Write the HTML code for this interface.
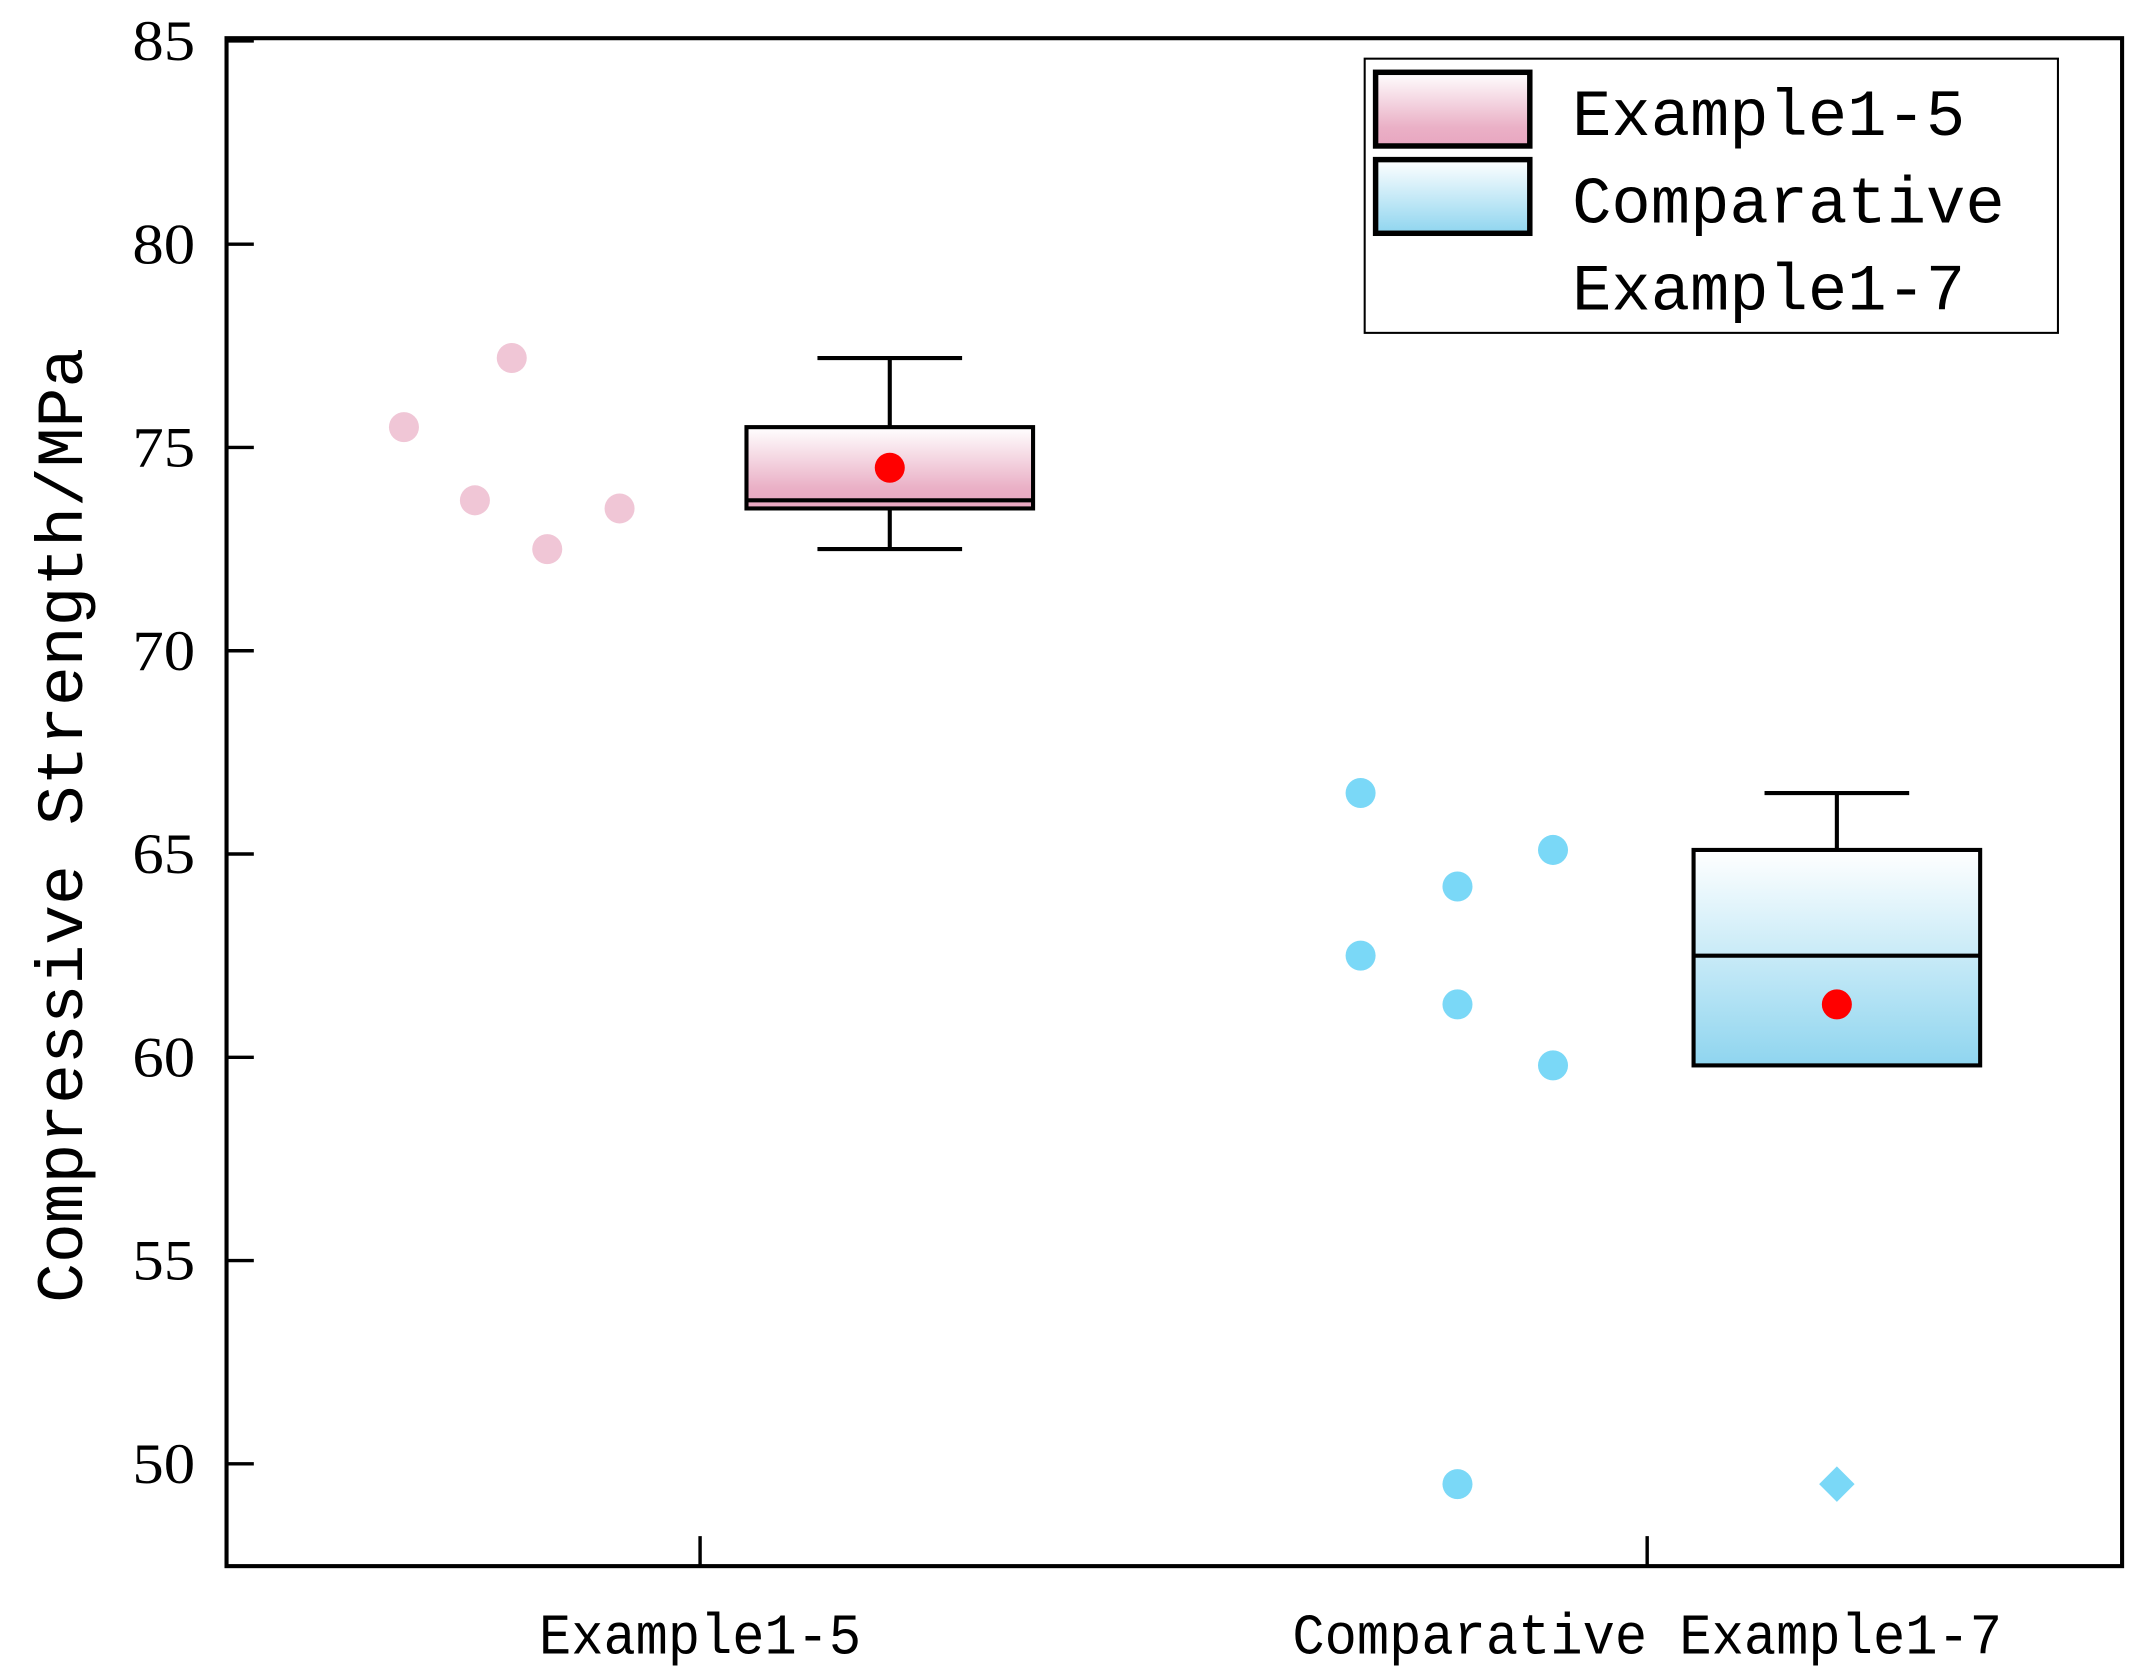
<!DOCTYPE html>
<html><head><meta charset="utf-8"><style>
html,body{margin:0;padding:0;background:#fff;}
svg{display:block;}
</style></head><body>
<svg id="chart" xmlns="http://www.w3.org/2000/svg" width="2133" height="1678" viewBox="0 0 1563 1230" preserveAspectRatio="none">
<defs>
<linearGradient id="gPink" x1="0" y1="0" x2="0" y2="1"><stop offset="0" stop-color="#ffffff"/><stop offset="0.75" stop-color="#eab0c6"/><stop offset="1" stop-color="#e8a6c0"/></linearGradient>
<linearGradient id="gBlue" x1="0" y1="0" x2="0" y2="1"><stop offset="0" stop-color="#ffffff"/><stop offset="1" stop-color="#8fd5ef"/></linearGradient>
</defs>
<g id="plot"></g>
</svg>
<script>
const categories = ["Example1-5", "Comparative Example1-7"];
const yTicks = [50, 55, 60, 65, 70, 75, 80, 85];
const pointsA = [75.5, 73.7, 77.2, 72.5, 73.5];
const pointsB = [66.5, 62.5, 64.2, 61.3, 49.5, 65.1, 59.8];
const boxMin = [72.5, 59.8];
const boxQ1 = [73.5, 59.8];
const boxMedian = [73.7, 62.5];
const boxQ3 = [75.5, 65.1];
const boxMax = [77.2, 66.5];
const boxMean = [74.5, 61.3];
const outliersB = [49.5];

const NS = "http://www.w3.org/2000/svg";
const g = document.getElementById('plot');
const L = 166, R = 1555, T = 28, B = 1148;
function y(v){ return 1073 - (v - 50) * 29.8; }
function xc(i){ return 513 + i * 694; }
function mk(tag, attrs, parent){
  const e = document.createElementNS(NS, tag);
  for (const k in attrs) e.setAttribute(k, attrs[k]);
  (parent || g).appendChild(e);
  return e;
}
// frame
let e = mk('rect', {x:L, y:T, width:R-L, height:B-T, fill:'none', stroke:'#000', 'stroke-width':3});


// y ticks
yTicks.forEach(v => {
  let t = mk('line', {x1:L, x2:L+20, y1:y(v), y2:y(v), stroke:'#000', 'stroke-width':2.5});
  
  
  let lb = mk('text', {x:143, y:y(v)+14, 'text-anchor':'end', 'font-family':'Liberation Serif, serif', 'font-size':42, textLength:46, lengthAdjust:'spacingAndGlyphs'});
  lb.textContent = v;
  
  
});
// x ticks and labels
categories.forEach((c, i) => {
  let t = mk('line', {x1:xc(i), x2:xc(i), y1:B, y2:B-22, stroke:'#000', 'stroke-width':2.5});
  
  
  let w = i === 0 ? 236 : 520;
  let lb = mk('text', {x:xc(i), y:1212, 'text-anchor':'middle', 'font-family':'Liberation Mono, monospace', 'font-size':42, textLength:w, lengthAdjust:'spacingAndGlyphs'});
  lb.textContent = c;
  
  
});
// y title
let yt = mk('text', {x:0, y:0, transform:'translate(60,605) rotate(-90)', 'text-anchor':'middle', 'font-family':'Liberation Mono, monospace', 'font-size':48, textLength:700, lengthAdjust:'spacingAndGlyphs'});
yt.textContent = 'Compressive Strength/MPa';


// scatter points
const xsA = [296, 348, 375, 401, 454].map(v => v - 513);
const xsB = [997, 997, 1068, 1068, 1068, 1138, 1138].map(v => v - 1207);
pointsA.forEach((v, j) => {
  let p = mk('circle', {cx:xc(0)+xsA[j], cy:y(v), r:11, fill:'#f0c6d6'});
  
  
});
pointsB.forEach((v, j) => {
  let p = mk('circle', {cx:xc(1)+xsB[j], cy:y(v), r:11, fill:'#7ad8f7'});
  
  
});
// boxes
const grads = ['url(#gPink)', 'url(#gBlue)'];
categories.forEach((c, i) => {
  const cx = xc(i) + 139, hw = 105, cw = 53;
  let w1 = mk('line', {x1:cx, x2:cx, y1:y(boxMax[i]), y2:y(boxQ3[i]), stroke:'#000', 'stroke-width':3});
  
  
  let c1 = mk('line', {x1:cx-cw, x2:cx+cw, y1:y(boxMax[i]), y2:y(boxMax[i]), stroke:'#000', 'stroke-width':3});
  
  
  if (boxMin[i] < boxQ1[i]) {
    let w2 = mk('line', {x1:cx, x2:cx, y1:y(boxQ1[i]), y2:y(boxMin[i]), stroke:'#000', 'stroke-width':3});
    
    
    let c2 = mk('line', {x1:cx-cw, x2:cx+cw, y1:y(boxMin[i]), y2:y(boxMin[i]), stroke:'#000', 'stroke-width':3});
    
    
  }
  let bx = mk('rect', {x:cx-hw, y:y(boxQ3[i]), width:2*hw, height:y(boxQ1[i])-y(boxQ3[i]), fill:grads[i], stroke:'#000', 'stroke-width':3});
  
  
  let md = mk('line', {x1:cx-hw, x2:cx+hw, y1:y(boxMedian[i]), y2:y(boxMedian[i]), stroke:'#000', 'stroke-width':3});
  
  
  let mn = mk('circle', {cx:cx, cy:y(boxMean[i]), r:11, fill:'#ff0000'});
  
  
});
outliersB.forEach(v => {
  const cx = xc(1) + 139, cy = y(v);
  let d = mk('polygon', {points:`${cx},${cy-13} ${cx+13},${cy} ${cx},${cy+13} ${cx-13},${cy}`, fill:'#7ad8f7'});
  
  
});
// legend
let lg = mk('g', {});


mk('rect', {x:1000, y:43, width:508, height:201, fill:'#fff', stroke:'#000', 'stroke-width':1.5}, lg);
let s1 = mk('rect', {x:1008, y:53, width:113, height:54, fill:'url(#gPink)', stroke:'#000', 'stroke-width':4}, lg);


let s2 = mk('rect', {x:1008, y:117, width:113, height:54, fill:'url(#gBlue)', stroke:'#000', 'stroke-width':4}, lg);


[['Example1-5', 99, 288], ['Comparative', 163, 317], ['Example1-7', 227, 288]].forEach(([t, yy, w]) => {
  let tx = mk('text', {x:1152, y:yy, 'font-family':'Liberation Mono, monospace', 'font-size':48, textLength:w, lengthAdjust:'spacingAndGlyphs'}, lg);
  tx.textContent = t;
  
  
});
</script>
</body></html>
